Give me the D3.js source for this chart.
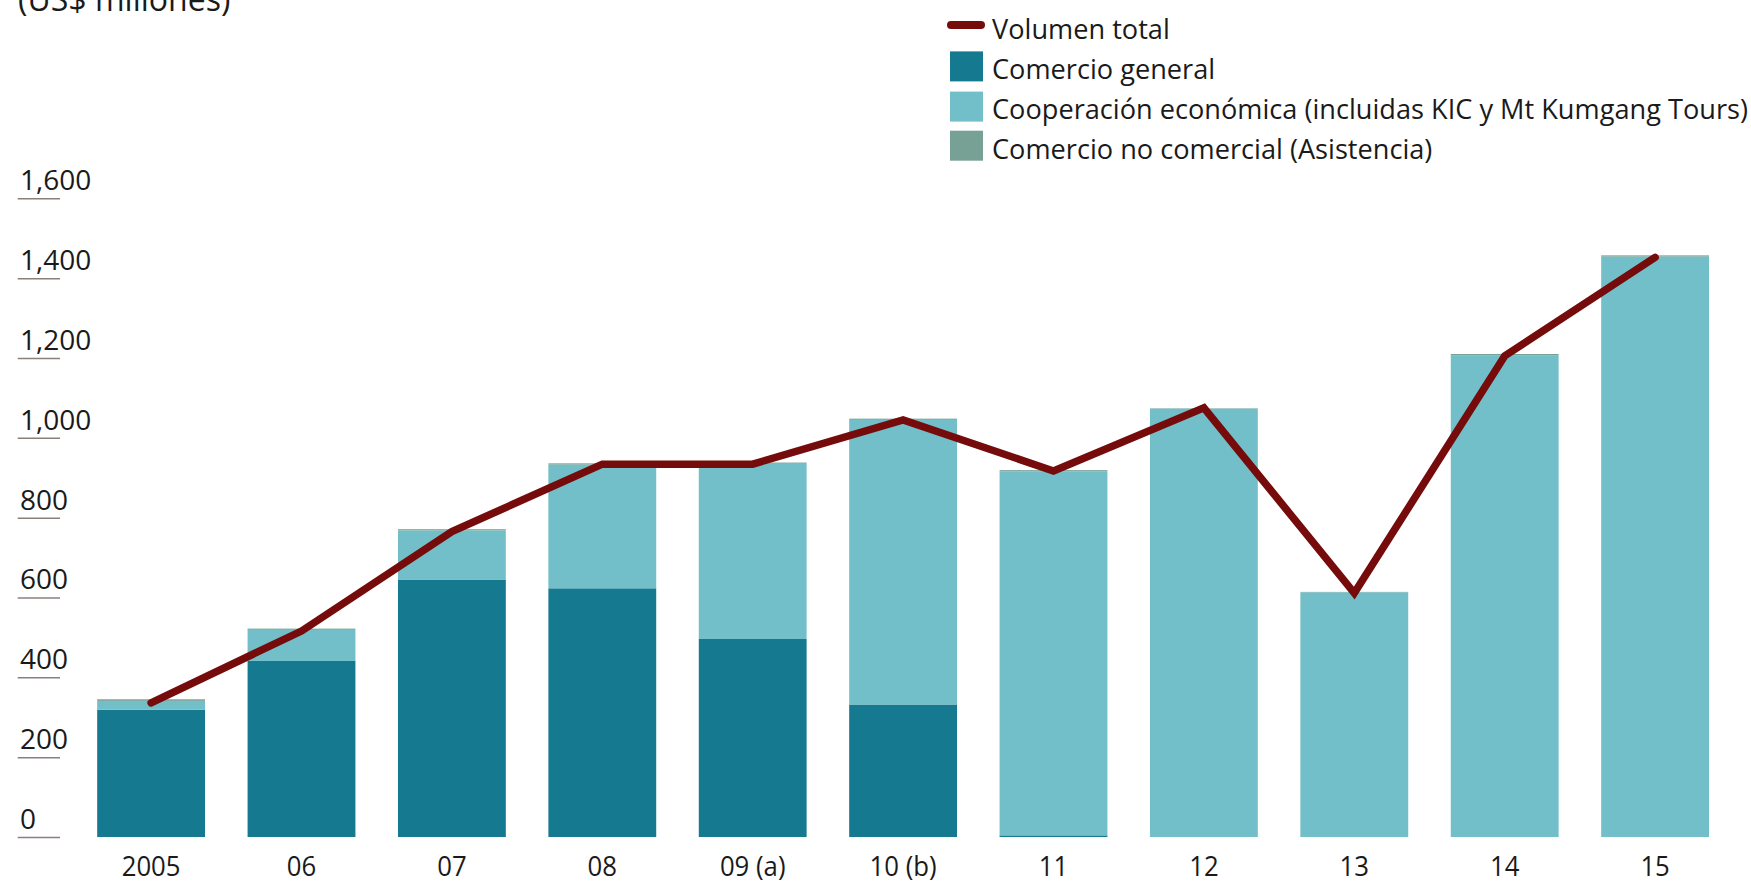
<!DOCTYPE html>
<html>
<head>
<meta charset="utf-8">
<script src="https://cdn.jsdelivr.net/npm/d3@7"></script>
<style>
  html, body { margin: 0; padding: 0; background: #fff; }
  svg { display: block; }
  text { font-family: "Open Sans", "Noto Sans", sans-serif; fill: #1a1a1a; }
</style>
</head>
<body>
<svg id="chart" width="1751" height="881"></svg>
<script>
// ---- data ----
const categories = ["2005", "06", "07", "08", "09 (a)", "10 (b)", "11", "12", "13", "14", "15"];
const comercioGeneral   = [319, 441, 645, 623, 496, 332, 4, 0, 0, 0, 0];
const cooperacion       = [22, 78, 123, 310, 439, 713, 912, 1073, 613, 1207, 1454];
const noComercial       = [4, 3, 3, 3, 3, 3, 3, 1, 1, 3, 3];
const volumenTotal      = [336, 516, 765, 934, 934, 1045, 917, 1075, 611, 1205, 1452];
const yTicks = [0, 200, 400, 600, 800, 1000, 1200, 1400, 1600];
const seriesNames = ["Comercio general", "Cooperación económica (incluidas KIC y Mt Kumgang Tours)", "Comercio no comercial (Asistencia)"];
const lineName = "Volumen total";
const title = "(US$ millones)";

const colors = { general: "#157a90", coop: "#72bfc9", nonc: "#78a196", line: "#750b0b" };

const svg = d3.select("#chart");

const x = d3.scaleBand().domain(categories).range([75.9, 1730.3]).paddingInner(0.283).paddingOuter(0.1415);
const y = d3.scaleLinear().domain([0, 1600]).range([837, 198.3]);

// title (partly cut off at top, as in the reference)
svg.append("text").attr("x", 18).attr("y", 11).style("font-size", "32px").text(title);

// y axis
const yAxis = svg.append("g").attr("transform", "translate(60,0)")
  .call(d3.axisLeft(y).tickValues(yTicks).tickSize(42.3).tickFormat(d3.format(",")));
yAxis.select(".domain").remove();
yAxis.selectAll(".tick line").attr("stroke", "#8a807b").attr("stroke-width", 1.5);
yAxis.selectAll(".tick text")
  .attr("x", -40).attr("dy", 0).attr("y", -8.5)
  .attr("text-anchor", "start")
  .style("font-size", "28px").style("fill", "#1a1a1a");

// stacked bars
const rows = categories.map((c, i) => ({ cat: c, general: comercioGeneral[i], coop: cooperacion[i], nonc: noComercial[i] }));
const stack = d3.stack().keys(["general", "coop", "nonc"]);
const stacked = stack(rows);
svg.append("g").selectAll("g").data(stacked).join("g")
  .attr("fill", d => colors[d.key])
  .selectAll("rect").data(d => d).join("rect")
  .attr("x", d => x(d.data.cat))
  .attr("width", x.bandwidth())
  .attr("y", d => y(d[1]))
  .attr("height", d => Math.max(0, y(d[0]) - y(d[1])));

// line
const line = d3.line().x((d, i) => x(categories[i]) + x.bandwidth() / 2).y(d => y(d));
svg.append("path").datum(volumenTotal)
  .attr("d", line).attr("fill", "none")
  .attr("stroke", colors.line).attr("stroke-width", 7.5)
  .attr("stroke-linecap", "round").attr("stroke-linejoin", "miter");

// x axis
const xAxis = svg.append("g").attr("transform", "translate(0,837)")
  .call(d3.axisBottom(x).tickSize(0));
xAxis.select(".domain").remove();
xAxis.selectAll(".tick text")
  .attr("y", 39).attr("dy", 0)
  .attr("transform", "scale(0.92,1)")
  .style("font-size", "28px").style("fill", "#1a1a1a");

// legend
const lg = svg.append("g");
lg.append("line").attr("x1", 951).attr("x2", 981).attr("y1", 25).attr("y2", 25)
  .attr("stroke", colors.line).attr("stroke-width", 8).attr("stroke-linecap", "round");
lg.append("text").attr("transform", "translate(992,39) scale(0.97,1)").style("font-size", "28px").text(lineName);
const swColors = [colors.general, colors.coop, colors.nonc];
const swY = [51.4, 91.6, 130.7];
const txY = [79, 119, 159];
seriesNames.forEach((n, i) => {
  lg.append("rect").attr("x", 950).attr("y", swY[i]).attr("width", 33).attr("height", 30).attr("fill", swColors[i]);
  lg.append("text").attr("transform", `translate(992,${txY[i]}) scale(0.97,1)`).style("font-size", "28px").text(n);
});
</script>
</body>
</html>
